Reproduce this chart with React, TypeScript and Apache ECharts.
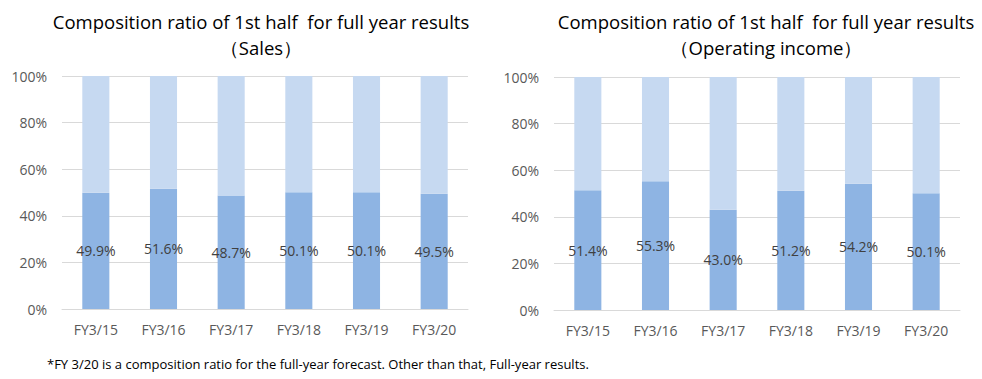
import React, { useEffect, useRef } from "react";
import * as echarts from "echarts";

const categories = ["FY3/15", "FY3/16", "FY3/17", "FY3/18", "FY3/19", "FY3/20"];
const salesFirstHalf = [49.9, 51.6, 48.7, 50.1, 50.1, 49.5];
const opIncomeFirstHalf = [51.4, 55.3, 43.0, 51.2, 54.2, 50.1];
const yTicks = [0, 20, 40, 60, 80, 100];
const titleLine1 = "Composition ratio of 1st half  for full year results";
const salesSubtitle = "（Sales）";
const opSubtitle = "（Operating income）";
const footnote = "*FY 3/20 is a composition ratio for the full-year forecast. Other than that, Full-year results.";

const FONT = "'Open Sans', 'Noto Sans', sans-serif";
const DARK = "#8EB4E3";
const LIGHT = "#C6D9F1";

export default function App() {
  const ref = useRef<HTMLDivElement>(null);
  useEffect(() => {
    document.body.style.margin = "0";
    const chart = echarts.init(ref.current!, null, { renderer: "svg" });
    const grids = [
      { left: 62, top: 76, width: 406, height: 233 },
      { left: 554, top: 77, width: 406, height: 233 },
    ];
    const datasets = [salesFirstHalf, opIncomeFirstHalf];
    const series: any[] = [];
    datasets.forEach((d, i) => {
      series.push({
        type: "bar",
        xAxisIndex: i,
        yAxisIndex: i,
        stack: "s" + i,
        data: d,
        barWidth: "40%",
        itemStyle: { color: DARK },
        label: {
          show: true,
          position: "inside",
          formatter: (p: any) => p.value.toFixed(1) + "%",
          color: "#404040",
          fontSize: 14,
          fontFamily: FONT,
        },
      });
      series.push({
        type: "bar",
        xAxisIndex: i,
        yAxisIndex: i,
        stack: "s" + i,
        data: d.map((v) => +(100 - v).toFixed(1)),
        barWidth: "40%",
        itemStyle: { color: LIGHT },
      });
    });
    chart.setOption({
      animation: false,
      textStyle: { fontFamily: FONT },
      grid: grids,
      xAxis: grids.map((_, i) => ({
        type: "category",
        gridIndex: i,
        data: categories,
        axisLine: { show: true, lineStyle: { color: "#D9D9D9" } },
        axisTick: { show: false },
        axisLabel: { color: "#595959", fontSize: 14, margin: 13, fontFamily: FONT },
      })),
      yAxis: grids.map((_, i) => ({
        type: "value",
        gridIndex: i,
        min: yTicks[0],
        max: yTicks[yTicks.length - 1],
        interval: yTicks[1] - yTicks[0],
        axisLine: { show: false },
        axisTick: { show: false },
        splitLine: { lineStyle: { color: "#D9D9D9" } },
        axisLabel: { color: "#595959", fontSize: 14, margin: 15, formatter: "{value}%", fontFamily: FONT },
      })),
      title: [
        {
          text: titleLine1 + "\n" + salesSubtitle,
          left: 256,
          top: 3,
          textAlign: "center",
          textStyle: { fontSize: 18.5, fontWeight: "normal", color: "#000", lineHeight: 26, fontFamily: FONT },
        },
        {
          text: titleLine1 + "\n" + opSubtitle,
          left: 761,
          top: 3,
          textAlign: "center",
          textStyle: { fontSize: 18.5, fontWeight: "normal", color: "#000", lineHeight: 26, fontFamily: FONT },
        },
      ],
      graphic: [
        {
          type: "text",
          left: 47,
          top: 357,
          style: { text: footnote, fontSize: 13, fill: "#000", fontFamily: FONT },
        },
      ],
      series,
    });
    return () => chart.dispose();
  }, []);
  return <div ref={ref} style={{ width: 982, height: 379, background: "#fff" }} />;
}
